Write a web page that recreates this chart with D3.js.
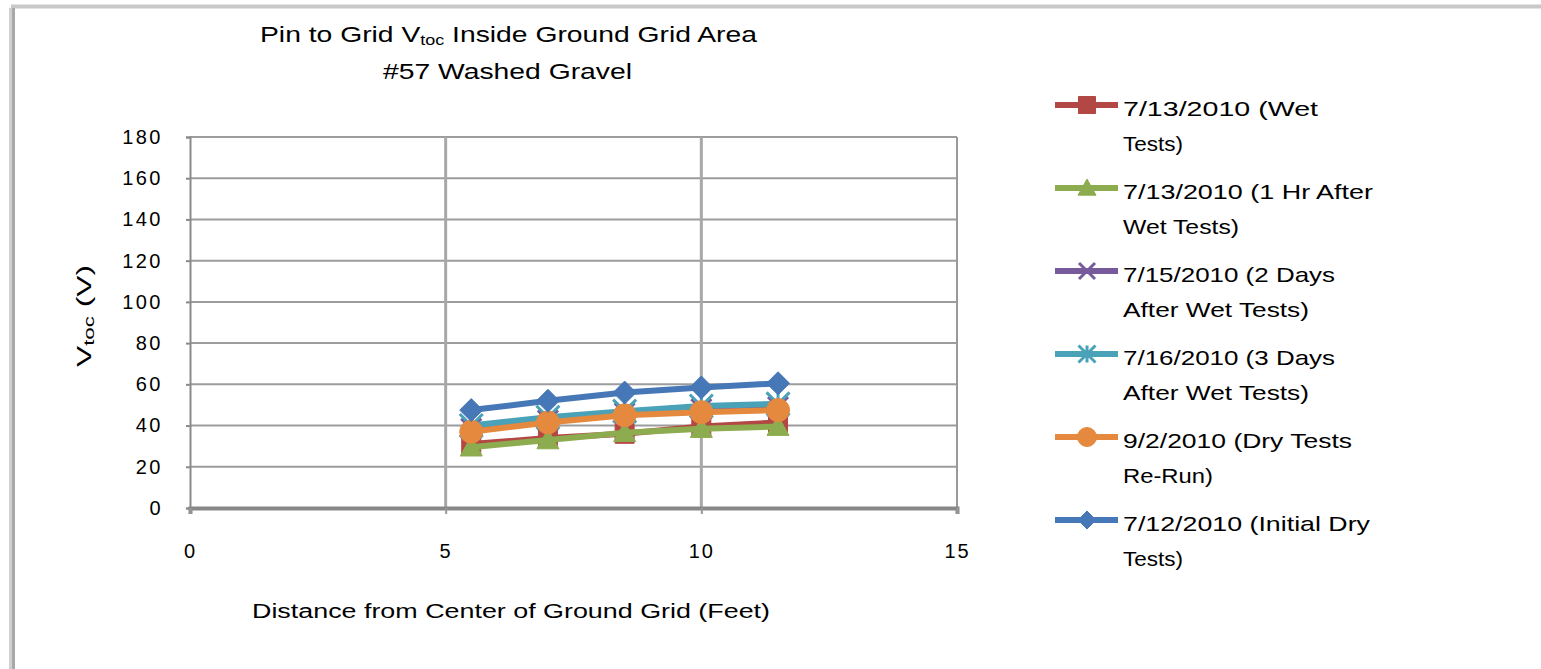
<!DOCTYPE html>
<html>
<head>
<meta charset="utf-8">
<script src="https://cdn.jsdelivr.net/npm/d3@7/dist/d3.min.js"></script>
<style>
  html, body { margin: 0; padding: 0; background: #fff; }
  svg { display: block; font-family: "Liberation Sans", Arial, sans-serif; }
</style>
</head>
<body>
<svg id="chart" width="1541" height="669"></svg>
<script>
// ---- data ----
const distances = [5.5, 7, 8.5, 10, 11.5];
const seriesNames = [
  ["7/13/2010 (Wet", "Tests)"],
  ["7/13/2010 (1 Hr After", "Wet Tests)"],
  ["7/15/2010 (2 Days", "After Wet Tests)"],
  ["7/16/2010 (3 Days", "After Wet Tests)"],
  ["9/2/2010 (Dry Tests", "Re-Run)"],
  ["7/12/2010 (Initial Dry", "Tests)"]
];
const wetTests      = [31, 34, 36, 39.5, 41.5];
const oneHrAfter    = [29.5, 33, 36.5, 38.5, 39.5];
const twoDaysAfter  = [38.5, 42.5, 46, 48, 49];
const threeDaysAfter= [40, 44, 47, 49.5, 50.5];
const dryReRun      = [37, 41.5, 45, 46.5, 47.5];
const initialDry    = [47.5, 52, 56, 58.5, 60.5];
const yTicks = [0, 20, 40, 60, 80, 100, 120, 140, 160, 180];
const xTicks = [0, 5, 10, 15];

const seriesValues = [wetTests, oneHrAfter, twoDaysAfter, threeDaysAfter, dryReRun, initialDry];
const colors = ["#b34744", "#8dac4f", "#775a9b", "#4aa2b9", "#e4893e", "#4677b6"];
const markers = ["square", "triangle", "x", "star", "circle", "diamond"];

// ---- layout ----
const svg = d3.select("#chart");
const x = d3.scaleLinear().domain([0, 15]).range([190, 957]);
const y = d3.scaleLinear().domain([0, 180]).range([508, 137]);

// outer frame (top & left edges)
svg.append("line").attr("x1", 11).attr("x2", 1541).attr("y1", 6.5).attr("y2", 6.5)
  .attr("stroke", "#c8c8c8").attr("stroke-width", 4);
svg.append("line").attr("x1", 10.5).attr("x2", 10.5).attr("y1", 8).attr("y2", 669)
  .attr("stroke", "#d0d0d0").attr("stroke-width", 3);
svg.append("line").attr("x1", 13.5).attr("x2", 13.5).attr("y1", 8).attr("y2", 669)
  .attr("stroke", "#a8a8a8").attr("stroke-width", 3);

// title
const t1 = svg.append("text").attr("x", 260).attr("y", 42).attr("font-size", 22)
  .attr("textLength", 497).attr("lengthAdjust", "spacingAndGlyphs");
t1.append("tspan").text("Pin to Grid V");
t1.append("tspan").attr("font-size", 14).attr("dy", 3).text("toc");
t1.append("tspan").attr("dy", -3).text(" Inside Ground Grid  Area");
svg.append("text").attr("x", 383).attr("y", 79).attr("font-size", 22)
  .attr("textLength", 249).attr("lengthAdjust", "spacingAndGlyphs").text("#57 Washed Gravel");

// gridlines
const grid = svg.append("g");
grid.selectAll("line.h").data(yTicks.filter(d => d > 0)).join("line")
  .attr("x1", x(0)).attr("x2", x(15))
  .attr("y1", d => y(d)).attr("y2", d => y(d))
  .attr("stroke", "#9c9c9c").attr("stroke-width", 2);
grid.selectAll("line.v").data(xTicks.filter(d => d > 0)).join("line")
  .attr("x1", d => x(d)).attr("x2", d => x(d))
  .attr("y1", y(180)).attr("y2", y(0))
  .attr("stroke", d => d === 15 ? "#9a9a9a" : "#a8a8a8").attr("stroke-width", d => d === 15 ? 2 : 3);

// axes
const yAxis = d3.axisLeft(y).tickValues(yTicks).tickSize(4).tickPadding(23).tickFormat(d3.format("d"));
const gy = svg.append("g").attr("transform", `translate(${x(0)},0)`).call(yAxis);
gy.select(".domain").attr("stroke", "#8a8a8a").attr("stroke-width", 2);
gy.selectAll(".tick line").attr("stroke", "#8a8a8a").attr("stroke-width", 2);
gy.selectAll(".tick text").attr("font-size", 20).attr("fill", "#000")
  .attr("font-family", "Liberation Sans, Arial, sans-serif").attr("letter-spacing", 2.5);

const xAxis = d3.axisBottom(x).tickValues(xTicks).tickSize(6).tickPadding(30).tickFormat(d3.format("d"));
const gx = svg.append("g").attr("transform", `translate(0,${y(0)})`).call(xAxis);
gx.select(".domain").attr("stroke", "#888").attr("stroke-width", 4);
gx.selectAll(".tick line").attr("stroke", "#999").attr("stroke-width", 2);
gx.selectAll(".tick text").attr("font-size", 20).attr("fill", "#000")
  .attr("font-family", "Liberation Sans, Arial, sans-serif").attr("letter-spacing", 2);

// axis titles
svg.append("text").attr("x", 252).attr("y", 618).attr("font-size", 20)
  .attr("textLength", 518).attr("lengthAdjust", "spacingAndGlyphs")
  .text("Distance from Center of Ground Grid (Feet)");
const yt = svg.append("text").attr("transform", "translate(91,367) rotate(-90)")
  .attr("font-size", 20).attr("textLength", 102).attr("lengthAdjust", "spacingAndGlyphs");
yt.append("tspan").text("V");
yt.append("tspan").attr("font-size", 14).attr("dy", 3).text("toc");
yt.append("tspan").attr("dy", -3).text("  (V)");

// marker path generator
function markerPath(type, s) {
  const h = s / 2;
  switch (type) {
    case "square": return `M${-h},${-h}H${h}V${h}H${-h}Z`;
    case "triangle": return `M0,${-h}L${h},${h * 0.8}L${-h},${h * 0.8}Z`;
    case "diamond": return `M0,${-h}L${h},0L0,${h}L${-h},0Z`;
    case "circle": return `M${h},0A${h},${h} 0 1,1 ${-h},0A${h},${h} 0 1,1 ${h},0Z`;
    case "x": return `M${-h},${-h}L${h},${h}M${-h},${h}L${h},${-h}`;
    case "star": return `M${-h},${-h}L${h},${h}M${-h},${h}L${h},${-h}M0,${-h}V${h}`;
  }
}
const strokeMarker = t => t === "x" || t === "star";

// series
const line = d3.line().x(d => x(d[0])).y(d => y(d[1]));
const plot = svg.append("g");
seriesValues.forEach((vals, i) => {
  const pts = distances.map((d, j) => [d, vals[j]]);
  const g = plot.append("g");
  g.append("path").datum(pts).attr("d", line)
    .attr("fill", "none").attr("stroke", colors[i]).attr("stroke-width", 6)
    .attr("stroke-linejoin", "round");
  const size = { square: 19, triangle: 22, x: 20, star: 23, circle: 23, diamond: 23 }[markers[i]];
  g.selectAll("path.m").data(pts).join("path")
    .attr("transform", d => `translate(${x(d[0])},${y(d[1])})`)
    .attr("d", markerPath(markers[i], size))
    .attr("fill", strokeMarker(markers[i]) ? "none" : colors[i])
    .attr("stroke", colors[i])
    .attr("stroke-width", strokeMarker(markers[i]) ? 3 : 1);
});

// legend
const legendRowY = d3.scaleLinear().domain([0, 5]).range([105, 520]);
const firstLineWidths = [195, 250, 212, 212, 229, 247];
const secondLineWidths = [60, 116, 186, 186, 90, 60];
const legend = svg.append("g");
seriesNames.forEach((name, i) => {
  const ly = legendRowY(i);
  const g = legend.append("g");
  g.append("line").attr("x1", 1055).attr("x2", 1118).attr("y1", ly).attr("y2", ly)
    .attr("stroke", colors[i]).attr("stroke-width", 6);
  const size = { square: 17, triangle: 18, x: 16, star: 17, circle: 19, diamond: 18 }[markers[i]];
  g.append("path").attr("transform", `translate(1087,${ly})`)
    .attr("d", markerPath(markers[i], size))
    .attr("fill", strokeMarker(markers[i]) ? "none" : colors[i])
    .attr("stroke", colors[i]).attr("stroke-width", strokeMarker(markers[i]) ? 3 : 1);
  g.append("text").attr("x", 1123).attr("y", ly + 11).attr("font-size", 21)
    .attr("textLength", firstLineWidths[i]).attr("lengthAdjust", "spacingAndGlyphs").text(name[0]);
  g.append("text").attr("x", 1123).attr("y", ly + 46).attr("font-size", 21)
    .attr("textLength", secondLineWidths[i]).attr("lengthAdjust", "spacingAndGlyphs").text(name[1]);
});
</script>
</body>
</html>
